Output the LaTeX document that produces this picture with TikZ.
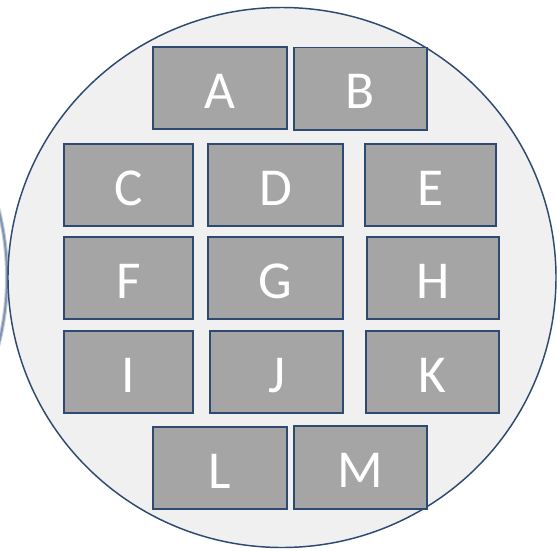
\documentclass[tikz,border=0pt]{standalone}
\usepackage{fontspec}
\setmainfont{Carlito}
\definecolor{edge}{HTML}{2E4A70}
\definecolor{boxfill}{HTML}{A5A5A5}
\definecolor{disc}{HTML}{F0F0F0}
\definecolor{faint}{HTML}{5A7196}
\begin{document}
\begin{tikzpicture}[x=0.75pt,y=-0.75pt,
  cell/.style={draw=edge,fill=boxfill,line width=1.4pt},
  lbl/.style={anchor=base,text=white,font=\fontsize{40}{48}\selectfont,inner sep=0pt}]
\clip (0,0) rectangle (557,550);
\fill[white] (0,0) rectangle (557,550);
% neighbouring wafer edge (blurred)
\draw[faint,line width=3pt,opacity=0.35] (-265,277) circle [radius=272];
\draw[faint,line width=1.5pt,opacity=0.6] (-265,277) circle [radius=272];
% wafer
\draw[edge,fill=disc,line width=1.1pt] (282,277.5) ellipse [x radius=274, y radius=270];
% dies
\newcommand{\die}[6]{%
  \draw[cell] (#2,#3) rectangle (#4,#5);
  \node[lbl] (#1) at ({(#2+#4)/2},{#3+61}) {#6};}
\die{a}{153}{47}{287}{129}{A}
\die{b}{294}{47.5}{427}{130}{B}
\die{c}{64}{144}{193}{226}{C}
\die{d}{208}{144}{343}{226}{D}
\die{e}{365}{144}{496}{226}{E}
\die{f}{64}{237}{193}{319}{F}
\die{g}{208}{237}{343}{319}{G}
\die{h}{367}{237}{499}{319}{H}
\die{i}{64}{331}{193}{413}{I}
\die{j}{210}{331}{343}{413}{J}
\die{k}{366}{331}{499}{413}{K}
\die{l}{153}{427}{287}{509}{L}
\die{m}{294}{426}{427}{509}{M}
\end{tikzpicture}
\end{document}
